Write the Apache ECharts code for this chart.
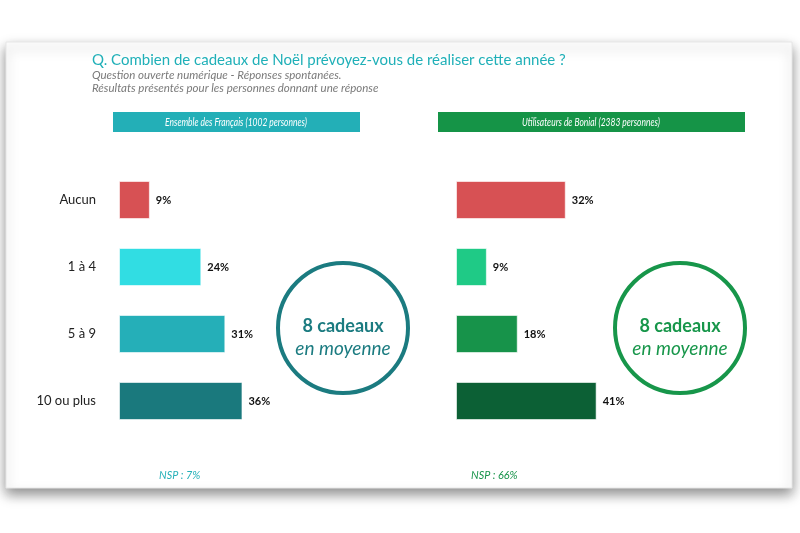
<!DOCTYPE html>
<html><head><meta charset="utf-8">
<script src="https://cdn.jsdelivr.net/npm/echarts@6/dist/echarts.min.js"></script>
<style>html,body{margin:0;padding:0;background:#fff}#c{width:800px;height:533px}</style>
</head><body><div id="c"></div>
<script>
const categories = ['Aucun', '1 à 4', '5 à 9', '10 ou plus'];
const francaisValues = [9, 24, 31, 36];
const bonialValues = [32, 9, 18, 41];
const francaisColors = ['#d75154', '#31dde3', '#25afb8', '#1a797d'];
const bonialColors = ['#d75154', '#1fca86', '#17934a', '#0c6035'];
const titleText = 'Q. Combien de cadeaux de Noël prévoyez-vous de réaliser cette année ?';
const subtitleLines = ['Question ouverte numérique - Réponses spontanées.', 'Résultats présentés pour les personnes donnant une réponse'];
const headers = ['Ensemble des Français (1002 personnes)', 'Utilisateurs de Bonial (2383 personnes)'];
const averages = ['8 cadeaux', 'en moyenne'];
const nspTexts = ['NSP : 7%', 'NSP : 66%'];

const FONT = 'Lato';
const chart = echarts.init(document.getElementById('c'));
const pxPer = 3.43, maxV = 50;

function barSeries(idx, vals, cols) {
  return {
    type: 'bar', xAxisIndex: idx, yAxisIndex: idx, barWidth: 38,
    data: vals.map((v, i) => ({ value: v, itemStyle: { color: cols[i], borderColor: 'rgba(255,255,255,0.6)', borderWidth: 1 } })),
    label: { show: true, position: 'right', distance: 6, formatter: '{c}%', fontFamily: FONT, fontWeight: 'bold', fontSize: 11, color: '#111' },
    silent: true, animation: false
  };
}

function circle(cx, color) {
  return [
    { type: 'circle', shape: { cx: cx, cy: 328, r: 65 }, style: { fill: 'none', stroke: color, lineWidth: 4 } },
    { type: 'text', x: cx, y: 326, style: { text: averages[0], fill: color, font: 'bold 18px ' + FONT, align: 'center', verticalAlign: 'middle' } },
    { type: 'text', x: cx, y: 349, style: { text: averages[1], fill: color, font: 'italic 19px ' + FONT, align: 'center', verticalAlign: 'middle' } }
  ];
}

function condensed(x, y, text, color, size, align, sx) {
  return { type: 'text', x: x, y: y, scaleX: sx, style: { text: text, fill: color, font: 'italic ' + size + 'px ' + FONT, align: align, verticalAlign: 'middle' } };
}

chart.setOption({
  animation: false,
  graphic: [
    { type: 'rect', shape: { x: 6, y: 42, width: 786, height: 446 }, style: { fill: '#fff', stroke: '#e6e6e6', lineWidth: 1, shadowBlur: 12, shadowOffsetY: 6, shadowColor: 'rgba(0,0,0,0.45)' }, z: -10 },
    { type: 'text', x: 92, y: 60, style: { text: titleText, fill: '#20b0b8', font: '15px ' + FONT, verticalAlign: 'middle' } },
    { type: 'text', x: 92, y: 75, style: { text: subtitleLines[0], fill: '#7a7a7a', font: 'italic 11.5px ' + FONT, verticalAlign: 'middle' } },
    { type: 'text', x: 92, y: 88, style: { text: subtitleLines[1], fill: '#7a7a7a', font: 'italic 11.5px ' + FONT, verticalAlign: 'middle' } },
    { type: 'rect', shape: { x: 113, y: 112, width: 247, height: 20 }, style: { fill: '#23afb7' } },
    condensed(236, 122, headers[0], '#fff', 11, 'center', 0.77),
    { type: 'rect', shape: { x: 438, y: 112, width: 307, height: 20 }, style: { fill: '#159447' } },
    condensed(591, 122, headers[1], '#fff', 11, 'center', 0.77),
    ...circle(343, '#1b7b80'),
    ...circle(680, '#17964a'),
    condensed(159, 475, nspTexts[0], '#25b0b8', 12, 'left', 0.9),
    condensed(471, 475, nspTexts[1], '#17944a', 12, 'left', 0.9)
  ],
  grid: [
    { left: 119, top: 166.5, width: pxPer * maxV, height: 268 },
    { left: 456, top: 166.5, width: pxPer * maxV, height: 268 }
  ],
  xAxis: [0, 1].map(i => ({ type: 'value', gridIndex: i, min: 0, max: maxV, show: false })),
  yAxis: [0, 1].map(i => ({
    type: 'category', gridIndex: i, data: categories, inverse: true,
    axisLine: { show: false }, axisTick: { show: false }, splitLine: { show: false },
    axisLabel: { show: i === 0, margin: 23, fontFamily: FONT, fontSize: 13, color: '#222' }
  })),
  series: [barSeries(0, francaisValues, francaisColors), barSeries(1, bonialValues, bonialColors)]
});
</script></body></html>
